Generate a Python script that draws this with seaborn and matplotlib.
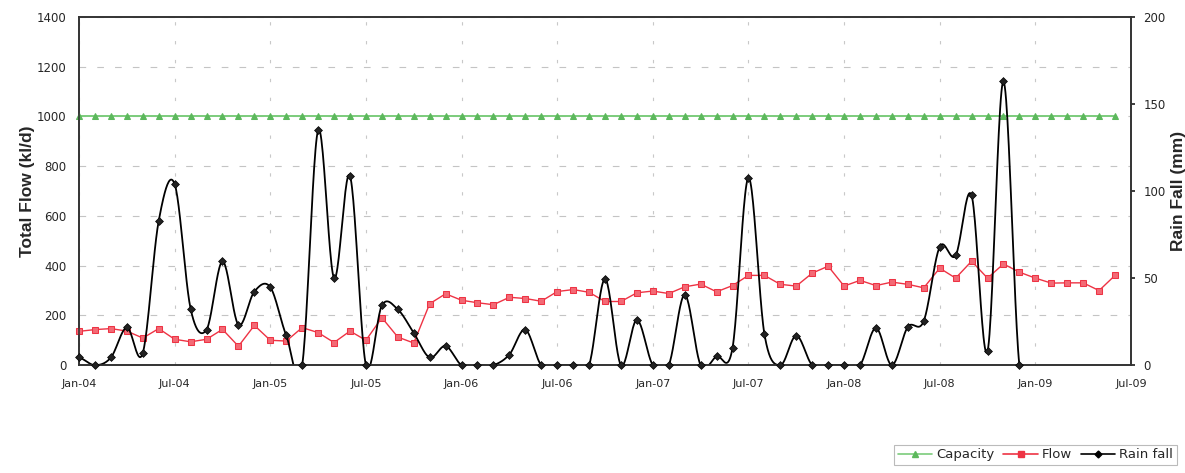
import numpy as np
import pandas as pd
import seaborn as sns
import matplotlib
matplotlib.use("Agg")
import matplotlib.pyplot as plt
from matplotlib.lines import Line2D

# month index 0 = Jan-04
tick_labels = ["Jan-04", "Jul-04", "Jan-05", "Jul-05", "Jan-06", "Jul-06",
               "Jan-07", "Jul-07", "Jan-08", "Jul-08", "Jan-09", "Jul-09"]

# Total flow (kl/d), Jan-04 .. Jun-09
flow = [136, 143, 147, 137, 109, 147, 104, 94, 104, 144, 76, 160,
        100, 97, 151, 131, 91, 137, 100, 191, 113, 89, 247, 287,
        261, 251, 243, 273, 268, 257, 296, 304, 293, 256, 256, 291,
        298, 288, 315, 326, 295, 320, 361, 361, 325, 318, 370, 398,
        318, 341, 320, 334, 325, 311, 390, 350, 418, 350, 407, 374,
        350, 330, 331, 331, 300, 361]

# plant capacity (kl/d), same months as flow
capacity = [1000] * 66

# rain fall (mm), Jan-04 .. Dec-08
rain = [4.4, 0, 4.4, 21.7, 7, 83, 104, 32.4, 20.4, 59.6, 23.2, 42.3,
        44.8, 17.1, 0, 135, 50, 108.7, 0, 34.3, 32, 18.5, 4.4, 11,
        0, 0, 0, 6.1, 20.4, 0, 0, 0, 0, 49.5, 0, 26,
        0, 0, 40.4, 0, 5.1, 9.9, 107.7, 18, 0, 17, 0, 0,
        0, 0, 21.4, 0, 22, 25.4, 68, 63, 97.5, 8, 163, 0]


def smooth(x, y, n=24):
    # catmull-rom curve through the points, like a "smoothed line" in excel
    x = np.asarray(x, float)
    y = np.asarray(y, float)
    px = np.concatenate([[2 * x[0] - x[1]], x, [2 * x[-1] - x[-2]]])
    py = np.concatenate([[y[0]], y, [y[-1]]])
    xs, ys = [], []
    t = np.linspace(0, 1, n, endpoint=False)
    for i in range(1, len(px) - 2):
        for p, out in ((px, xs), (py, ys)):
            p0, p1, p2, p3 = p[i - 1], p[i], p[i + 1], p[i + 2]
            out.extend(0.5 * ((2 * p1) + (-p0 + p2) * t
                              + (2 * p0 - 5 * p1 + 4 * p2 - p3) * t ** 2
                              + (-p0 + 3 * p1 - 3 * p2 + p3) * t ** 3))
    xs.append(x[-1])
    ys.append(y[-1])
    return np.array(xs), np.array(ys)


flow_df = pd.DataFrame({"month": np.arange(len(flow)), "flow": flow, "capacity": capacity})
rain_df = pd.DataFrame({"month": np.arange(len(rain)), "rain": rain})
sx, sy = smooth(rain_df["month"], rain_df["rain"])
curve_df = pd.DataFrame({"month": sx, "rain": sy})

sns.set_theme(style="white")
plt.rcParams["font.family"] = ["DejaVu Sans"]

green = "#5cb85c"
red = "#ee3344"

fig, ax = plt.subplots(figsize=(11.85, 4.73), dpi=100)
fig.subplots_adjust(left=0.0667, right=0.9544, top=0.964, bottom=0.228)

sns.lineplot(data=flow_df, x="month", y="capacity", ax=ax, color="#7ccc7c", lw=1.4,
             marker="^", markersize=5, markerfacecolor=green, markeredgecolor=green,
             clip_on=False, zorder=3)
sns.lineplot(data=flow_df, x="month", y="flow", ax=ax, color=red, lw=1.0,
             marker="s", markersize=4.5, markerfacecolor="#f36a75", markeredgecolor=red,
             clip_on=False, zorder=3)

ax.set_xlim(0, 66)
ax.set_ylim(0, 1400)
ax.set_yticks(range(0, 1401, 200))
ax.set_xticks(range(0, 67, 6))
ax.set_xticklabels(tick_labels)
ax.grid(True, axis="y", color="#c4c4c4", lw=0.8, linestyle=(0, (6, 10)))
ax.grid(True, axis="x", color="#c8c8c8", lw=0.8, linestyle=(0, (3, 14)))
ax.set_xlabel("")
ax.set_ylabel("Total Flow (kl/d)", fontsize=12.5, fontweight="bold",
              family="Liberation Sans", labelpad=1)
ax.tick_params(axis="y", labelsize=8.5, length=0, pad=9)
ax.tick_params(axis="x", labelsize=8, length=0, pad=10)

ax2 = ax.twinx()
sns.lineplot(data=curve_df, x="month", y="rain", ax=ax2, color="black", lw=1.3,
             sort=False, estimator=None)
sns.scatterplot(data=rain_df, x="month", y="rain", ax=ax2, marker="D", s=16,
                color="#222222", edgecolor="black", linewidth=0.5, clip_on=False, zorder=4)
ax2.set_ylim(0, 200)
ax2.set_yticks(range(0, 201, 50))
ax2.set_ylabel("Rain Fall (mm)", fontsize=12.5, fontweight="bold",
               family="Liberation Sans", rotation=90, labelpad=4)
ax2.tick_params(axis="y", labelsize=8.5, length=3, direction="out", pad=6)

for a in (ax, ax2):
    for s in a.spines.values():
        s.set_color("#333333")
        s.set_linewidth(1.2)

handles = [
    Line2D([], [], color="#7ccc7c", lw=1.2, marker="^", markersize=4.5,
           markerfacecolor=green, markeredgecolor=green),
    Line2D([], [], color=red, lw=1.2, marker="s", markersize=4.5,
           markerfacecolor=red, markeredgecolor=red),
    Line2D([], [], color="black", lw=1.2, marker="D", markersize=3.5),
]
leg = fig.legend(handles, ["Capacity", "Flow", "Rain fall"], ncol=3,
                 loc="lower right", bbox_to_anchor=(0.999, 0.002), fontsize=9.5,
                 frameon=True, fancybox=False, handlelength=2.6,
                 handletextpad=0.3, columnspacing=0.7, borderpad=0.3)
leg.get_frame().set_edgecolor("#aaaaaa")
leg.get_frame().set_linewidth(0.8)

fig.savefig("out.png", dpi=100)
